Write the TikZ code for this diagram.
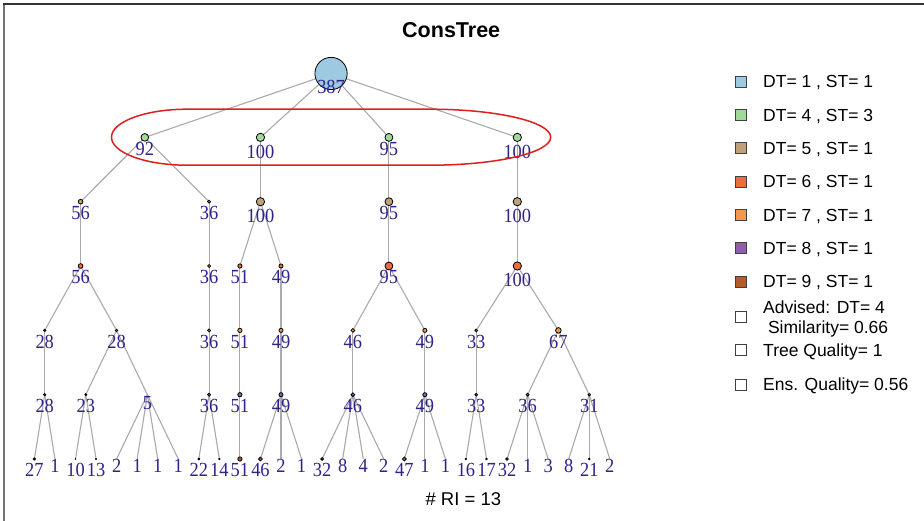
\documentclass[tikz,border=0pt]{standalone}
\usepackage{fontspec}
\usetikzlibrary{calc}
\newfontfamily\labfont{Liberation Serif}[FakeStretch=0.92]
\newfontfamily\sansf{Liberation Sans}
\definecolor{cA}{HTML}{9ECAE1}
\definecolor{cB}{HTML}{A1D99B}
\definecolor{cC}{HTML}{BFA07A}
\definecolor{cD}{HTML}{EE6A3F}
\definecolor{cE}{HTML}{F4994B}
\definecolor{cF}{HTML}{8E5FA8}
\definecolor{cG}{HTML}{B85A25}
\definecolor{labc}{RGB}{45,35,140}
\definecolor{edgec}{RGB}{170,170,170}
\definecolor{ovalc}{RGB}{225,30,30}
\pgfdeclarelayer{bg}
\pgfdeclarelayer{edges}
\pgfsetlayers{bg,edges,main}
\tikzset{
  dot/.style={circle, draw=black, line width=0.8pt, inner sep=0pt},
  lab/.style={anchor=base, inner sep=0pt, text=labc, font=\labfont\fontsize{20}{20}\selectfont},
  edge/.style={draw=edgec, line width=1.1pt},
  legtxt/.style={anchor=base west, inner sep=0pt, font=\sansf\fontsize{17.5}{17.5}\selectfont},
  legbox/.style={draw=black!75, line width=0.9pt, minimum size=11pt, inner sep=0pt},
}
% #1 name, #2 x, #3 y, #4 diameter, #5 colour, #6 label, #7 label offset
\newcommand\TN[7]{%
  \node[dot, minimum size=#4pt, fill=#5] (#1) at (#2,#3) {};
  \node[lab] (#1l) at ($(#2,#3)+(0,#7)$) {#6};}
% node with no visible dot
\newcommand\TC[5]{%
  \coordinate (#1) at (#2,#3);
  \node[lab] (#1l) at ($(#2,#3)+(0,#5)$) {#4};}
\begin{document}
\begin{tikzpicture}[x=1pt,y=-1pt]
\useasboundingbox (0,0) rectangle (924,521);
\begin{pgfonlayer}{bg}
\fill[white] (0,0) rectangle (924,521);
\end{pgfonlayer}
% frame
\draw[color=black!55, line width=2pt] (3.7,3) -- (3.7,521);
\draw[color=black!80, line width=1.4pt] (3,4) -- (924,4);

\node[anchor=base, font=\sansf\bfseries\fontsize{21.5}{21.5}\selectfont] (title) at (451.2,37.3) {ConsTree};
\node[anchor=base, font=\sansf\fontsize{18.5}{18.5}\selectfont] (ri) at (463.3,505) {\# RI = 13};

% level 0
\TN{r}{331.05}{73.5}{32.25}{cA}{387}{19.8}
% level 1
\TN{a1}{144.8}{137.4}{7.7}{cB}{92}{17.7}
\TN{a2}{260.45}{137.4}{8.3}{cB}{100}{20.8}
\TN{a3}{388.9}{137.4}{7.9}{cB}{95}{17.7}
\TN{a4}{517.3}{137.4}{8.3}{cB}{100}{20.8}
% level 2
\TN{b1}{80.6}{201.7}{4.7}{cC}{56}{17.7}
\TN{b2}{209.07}{201.7}{3}{cC}{36}{17.7}
\TN{b3}{260.45}{201.7}{8.3}{cC}{100}{20.8}
\TN{b4}{388.9}{201.7}{7.9}{cC}{95}{17.7}
\TN{b5}{517.3}{201.7}{8.3}{cC}{100}{20.8}
% level 3
\TN{c1}{80.6}{266}{4.7}{cD}{56}{17.7}
\TN{c2}{209.07}{266}{3}{cD}{36}{17.7}
\TN{c3}{239.9}{266}{4.25}{cD}{51}{17.7}
\TN{c4}{281}{266}{4.1}{cD}{49}{17.7}
\TN{c5}{388.9}{266}{7.9}{cD}{95}{17.7}
\TN{c6}{517.3}{266}{8.3}{cD}{100}{20.8}
% level 4
\TN{d1}{44.7}{330.4}{2.3}{cE}{28}{17.7}
\TN{d2}{116.6}{330.4}{2.3}{cE}{28}{17.7}
\TN{d3}{209.07}{330.4}{3}{cE}{36}{17.7}
\TN{d4}{239.9}{330.4}{4.25}{cE}{51}{17.7}
\TN{d5}{281}{330.4}{4.1}{cE}{49}{17.7}
\TN{d6}{352.9}{330.4}{3.8}{cE}{46}{17.7}
\TN{d7}{424.85}{330.4}{4.1}{cE}{49}{17.7}
\TN{d8}{476.2}{330.4}{2.75}{cE}{33}{17.7}
\TN{d9}{558.4}{330.4}{5.6}{cE}{67}{17.7}
% level 5
\TN{e1}{44.7}{394.7}{2.3}{cF}{28}{17.7}
\TN{e2}{85.8}{394.7}{1.9}{cF}{23}{17.7}
\TC{e3}{147.4}{394.7}{5}{14.4}
\TN{e4}{209.07}{394.7}{3}{cF}{36}{17.7}
\TN{e5}{239.9}{394.7}{4.25}{cF}{51}{17.7}
\TN{e6}{281}{394.7}{4.1}{cF}{49}{17.7}
\TN{e7}{352.9}{394.7}{3.8}{cF}{46}{17.7}
\TN{e8}{424.85}{394.7}{4.1}{cF}{49}{17.7}
\TN{e9}{476.2}{394.7}{2.75}{cF}{33}{17.7}
\TN{e10}{527.6}{394.7}{3}{cF}{36}{17.7}
\TN{e11}{589.25}{394.7}{2.6}{cF}{31}{17.7}
% level 6 (leaves)
\TN{f0}{34.4}{459}{2.25}{cG}{27}{17.7}
\TC{f1}{54.95}{459}{1}{13.7}
\TN{f2}{75.5}{459}{0.83}{cG}{10}{17.7}
\TN{f3}{96.05}{459}{1.08}{cG}{13}{17.7}
\TC{f4}{116.6}{459}{2}{13.7}
\TC{f5}{137.15}{459}{1}{13.7}
\TC{f6}{157.7}{459}{1}{13.7}
\TC{f7}{178.25}{459}{1}{13.7}
\TN{f8}{198.8}{459}{1.8}{cG}{22}{17.7}
\TN{f9}{219.35}{459}{1.17}{cG}{14}{17.7}
\TN{f10}{239.9}{459}{4.25}{cG}{51}{17.7}
\TN{f11}{260.45}{459}{3.8}{cG}{46}{17.7}
\TC{f12}{281}{459}{2}{13.7}
\TC{f13}{301.55}{459}{1}{13.7}
\TN{f14}{322.1}{459}{2.7}{cG}{32}{17.7}
\TC{f15}{342.65}{459}{8}{13.7}
\TC{f16}{363.2}{459}{4}{13.7}
\TC{f17}{383.75}{459}{2}{13.7}
\TN{f18}{404.3}{459}{3.9}{cG}{47}{17.7}
\TC{f19}{424.85}{459}{1}{13.7}
\TC{f20}{445.4}{459}{1}{13.7}
\TN{f21}{465.95}{459}{1.33}{cG}{16}{17.7}
\TN{f22}{486.5}{459}{1.42}{cG}{17}{17.7}
\TN{f23}{507.05}{459}{2.7}{cG}{32}{17.7}
\TC{f24}{527.6}{459}{1}{13.7}
\TC{f25}{548.15}{459}{3}{13.7}
\TC{f26}{568.7}{459}{8}{13.7}
\TN{f27}{589.25}{459}{1.75}{cG}{21}{17.7}
\TC{f28}{609.8}{459}{2}{13.7}

\begin{pgfonlayer}{edges}
\foreach \p/\c in {r/a1,r/a2,r/a3,r/a4,
  a1/b1,a1/b2,a2/b3,a3/b4,a4/b5,
  b1/c1,b2/c2,b3/c3,b3/c4,b4/c5,b5/c6,
  c1/d1,c1/d2,c2/d3,c3/d4,c4/d5,c5/d6,c5/d7,c6/d8,c6/d9,
  d1/e1,d2/e2,d2/e3,d3/e4,d4/e5,d5/e6,d6/e7,d7/e8,d8/e9,d9/e10,d9/e11,
  e1/f0,e1/f1,e2/f2,e2/f3,e3/f4,e3/f5,e3/f6,e3/f7,e4/f8,e4/f9,e5/f10,
  e6/f11,e6/f12,e6/f13,e7/f14,e7/f15,e7/f16,e7/f17,e8/f18,e8/f19,e8/f20,
  e9/f21,e9/f22,e10/f23,e10/f24,e10/f25,e11/f26,e11/f27,e11/f28}
  {\draw[edge] (\p.center) -- (\c.center);}
\end{pgfonlayer}

% red oval round level 1
\draw[ovalc, line width=1.5pt]
  (187,109.2) -- (430,109.2)
  arc[start angle=90, end angle=-90, x radius=120.7, y radius=-28]
  -- (187,165.2)
  arc[start angle=270, end angle=90, x radius=75.5, y radius=-28] -- cycle;

% legend
\foreach \yy/\col/\txt [count=\i] in {81.7/cA/{DT= 1 , ST= 1},115/cB/{DT= 4 , ST= 3},148.3/cC/{DT= 5 , ST= 1},181.7/cD/{DT= 6 , ST= 1},215/cE/{DT= 7 , ST= 1},248.3/cF/{DT= 8 , ST= 1},281.7/cG/{DT= 9 , ST= 1}}{
  \node[legbox, fill=\col] (lb\i) at (741,\yy) {};
  \node[legtxt] (lt\i) at (763,\yy+6.3) {\txt};
}
\node[legbox, fill=white] (lb8) at (741,316.7) {};
\node[legtxt] (lt8a) at (763,313.3) {Advised: DT= 4};
\node[legtxt] (lt8b) at (763,333.3) {\ Similarity= 0.66};
\node[legbox, fill=white] (lb9) at (741,350.3) {};
\node[legtxt] (lt9) at (763,356.7) {Tree Quality= 1};
\node[legbox, fill=white] (lb10) at (741,384.5) {};
\node[legtxt] (lt10) at (763,390.5) {Ens. Quality= 0.56};
\end{tikzpicture}
\end{document}
